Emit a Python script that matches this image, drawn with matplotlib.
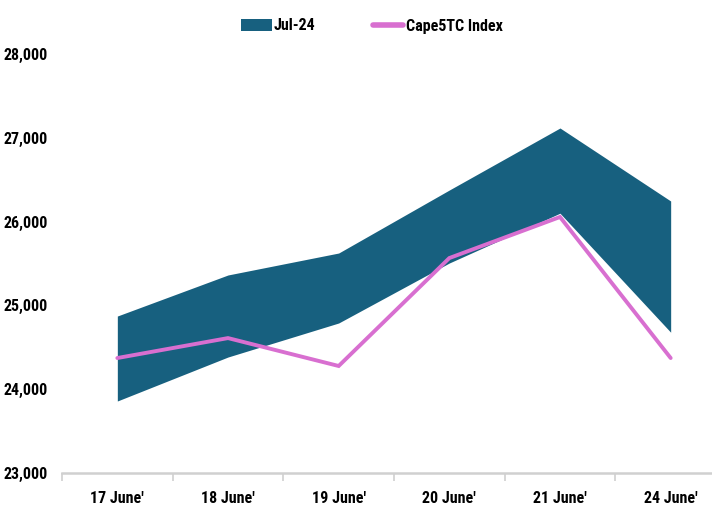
import matplotlib
matplotlib.use("Agg")
import matplotlib.pyplot as plt
from matplotlib.patches import Patch
from matplotlib.lines import Line2D
from matplotlib import font_manager

fonts = {(f.name, f.weight) for f in font_manager.fontManager.ttflist}
if ('Archivo Narrow', 700) in fonts:
    base = 'Archivo Narrow'
elif any(n == 'Roboto Condensed' for n, w in fonts):
    base = 'Roboto Condensed'
else:
    base = 'DejaVu Sans'
plt.rcParams['font.family'] = [base, 'DejaVu Sans']
plt.rcParams['font.weight'] = 'bold'

categories = ["17 June'", "18 June'", "19 June'", "20 June'", "21 June'", "24 June'"]
band_high = [24873, 25363, 25625, 26377, 27117, 26246]
band_low = [23859, 24384, 24790, 25506, 26100, 24680]
cape5tc = [24372, 24610, 24277, 25565, 26055, 24372]
yticks = [23000, 24000, 25000, 26000, 27000, 28000]

band_color = '#17607F'
line_color = '#D86FD0'
fs = 11.5

fig = plt.figure(figsize=(7.12, 5.05), dpi=100)
ax = fig.add_axes([62/712, 32/505, 664/712, 419/505])
x = list(range(len(categories)))
ax.fill_between(x, band_low, band_high, color=band_color, linewidth=0)
ax.plot(x, cape5tc, color=line_color, linewidth=2.8, solid_capstyle='round', solid_joinstyle='miter')

ax.set_xlim(-0.5, len(categories) - 0.5)
ax.set_ylim(23000, 28000)
ax.set_yticks(yticks)
ax.set_yticklabels([f"{v:,}" for v in yticks], fontsize=fs, fontweight='bold')
ax.set_xticks([i - 0.5 for i in x] + [len(x) - 0.5], minor=False)
ax.set_xticklabels([])
ax.set_xticks(x, minor=True)
ax.set_xticklabels(categories, minor=True, fontsize=fs, fontweight='bold')
ax.tick_params(axis='x', which='major', length=6, width=1.2, color='#D0D0D0', direction='out')
ax.tick_params(axis='x', which='minor', length=0, pad=13)
ax.tick_params(axis='y', length=0, pad=10)
for s in ['top', 'right', 'left']:
    ax.spines[s].set_visible(False)
ax.spines['bottom'].set_color('#D0D0D0')
ax.spines['bottom'].set_linewidth(1.8)

handles = [Patch(facecolor=band_color, edgecolor='none', label='Jul-24'),
           Line2D([0], [0], color=line_color, linewidth=4, solid_capstyle='round', label='Cape5TC Index')]
fig.legend(handles=handles, loc='center', bbox_to_anchor=(372/712, 1 - 26/505), ncol=2,
           frameon=False, handlelength=1.9, handleheight=0.8, columnspacing=3.6,
           handletextpad=0.15, prop={'weight': 'bold', 'size': fs})

fig.savefig('out.png', dpi=100)
